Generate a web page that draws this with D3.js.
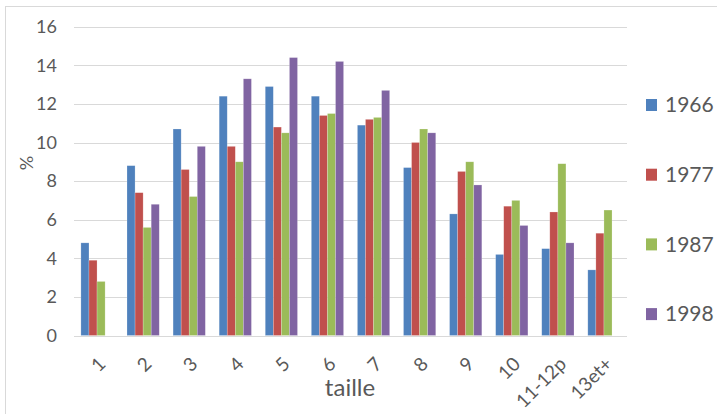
<!DOCTYPE html>
<html><head><meta charset="utf-8">
<script src="https://cdn.jsdelivr.net/npm/d3@7/dist/d3.min.js"></script>
<style>body{margin:0;background:#fff}svg{display:block}</style>
</head><body><svg id="c" width="717" height="414"></svg>
<script>
const categories = ["1","2","3","4","5","6","7","8","9","10","11-12p","13et+"];
const seriesNames = ["1966","1977","1987","1998"];
const v1966 = [4.8, 8.8, 10.7, 12.4, 12.9, 12.4, 10.9, 8.7, 6.3, 4.2, 4.5, 3.4];
const v1977 = [3.9, 7.4, 8.6, 9.8, 10.8, 11.4, 11.2, 10.0, 8.5, 6.7, 6.4, 5.3];
const v1987 = [2.8, 5.6, 7.2, 9.0, 10.5, 11.5, 11.3, 10.7, 9.0, 7.0, 8.9, 6.5];
const v1998 = [0, 6.8, 9.8, 13.3, 14.4, 14.2, 12.7, 10.5, 7.8, 5.7, 4.8, 0];
const yTicks = [0, 2, 4, 6, 8, 10, 12, 14, 16];
const colors = ["#4F81BD", "#C0504D", "#9BBB59", "#8064A2"];
const seriesValues = [v1966, v1977, v1987, v1998];

const svg = d3.select("#c");
const font = "Lato, 'Liberation Sans', sans-serif";
const textCol = "#595959";

svg.append("rect").attr("x", 5.5).attr("y", 6.5).attr("width", 730).attr("height", 430)
  .attr("fill", "none").attr("stroke", "#D9D9D9");

const pLeft = 74, pRight = 627, pTop = 26.7, pBottom = 335.5;
const x = d3.scaleBand().domain(categories).range([pLeft, pRight]).paddingInner(0.3).paddingOuter(0.15);
const xs = d3.scaleBand().domain(seriesNames).range([0, x.bandwidth()]);
const y = d3.scaleLinear().domain([0, 16]).range([pBottom, pTop]);

// gridlines
svg.append("g").selectAll("line").data(yTicks.filter(d => d > 0)).join("line")
  .attr("x1", pLeft).attr("x2", pRight)
  .attr("y1", d => Math.round(y(d)) + 0.5).attr("y2", d => Math.round(y(d)) + 0.5)
  .attr("stroke", "#D9D9D9").attr("stroke-width", 1);

// y axis labels
const yAxis = d3.axisLeft(y).tickValues(yTicks).tickSize(0).tickPadding(0);
const yg = svg.append("g").attr("transform", `translate(57,0)`).call(yAxis);
yg.select(".domain").remove();
yg.selectAll("text").attr("font-family", font).attr("font-size", 18).attr("fill", textCol);

// bars
const groups = svg.append("g").selectAll("g").data(seriesNames).join("g")
  .attr("fill", (d, i) => colors[i]);
groups.each(function(s, si) {
  d3.select(this).selectAll("rect").data(categories.map((c, ci) => ({c, v: seriesValues[si][ci]})))
    .join("rect")
    .attr("x", d => x(d.c) + xs(s))
    .attr("width", xs.bandwidth())
    .attr("y", d => y(d.v))
    .attr("height", d => y(0) - y(d.v))
    .attr("stroke", "rgba(255,255,255,0.35)").attr("stroke-width", 0.6);
});

// x axis
const xAxis = d3.axisBottom(x).tickSize(0).tickPadding(0);
const xg = svg.append("g").attr("transform", `translate(0,${Math.round(pBottom) + 0.5})`).call(xAxis);
xg.select(".domain").attr("stroke", "#D9D9D9").attr("d", `M${pLeft},0H${pRight}`);
xg.selectAll("text")
  .attr("font-family", font).attr("font-size", 19).attr("fill", textCol)
  .attr("text-anchor", "end").attr("dy", "0.35em")
  .attr("transform", "translate(5,24) rotate(-45)");

// axis titles
svg.append("text").attr("x", 350).attr("y", 396).attr("text-anchor", "middle")
  .attr("font-family", font).attr("font-size", 24).attr("fill", textCol).text("taille");
svg.append("text").attr("transform", "translate(33,163) rotate(-90)").attr("text-anchor", "middle")
  .attr("font-family", font).attr("font-size", 18).attr("fill", textCol).text("%");

// legend
const lg = svg.append("g").selectAll("g").data(seriesNames).join("g")
  .attr("transform", (d, i) => `translate(646,${105 + i * 69.7})`);
lg.append("rect").attr("x", 0).attr("y", -6).attr("width", 11).attr("height", 12)
  .attr("fill", (d, i) => colors[i]);
lg.append("text").attr("x", 19).attr("y", 0).attr("dy", "0.35em")
  .attr("font-family", font).attr("font-size", 21).attr("fill", textCol).text(d => d);
</script></body></html>
